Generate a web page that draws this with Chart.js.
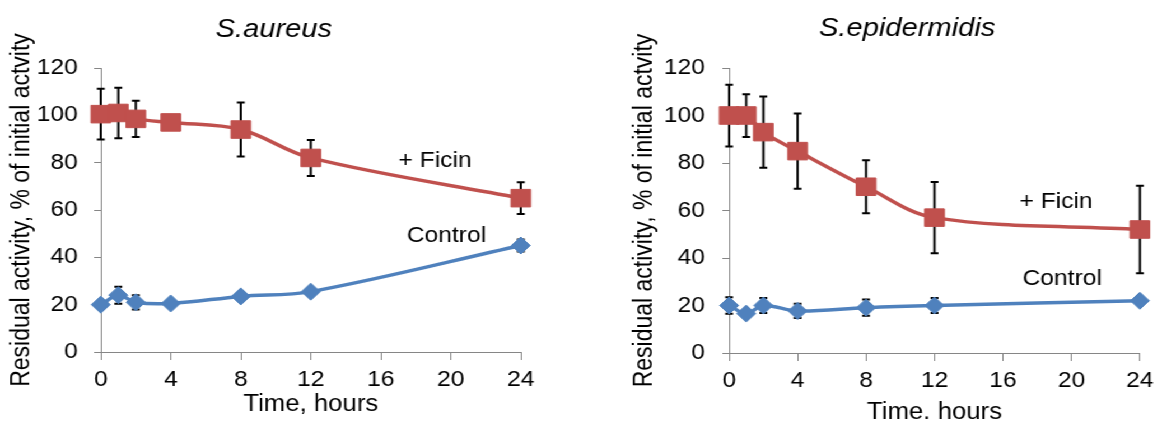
<!DOCTYPE html>
<html>
<head>
<meta charset="utf-8">
<script src="https://cdn.jsdelivr.net/npm/chart.js@4.4.1/dist/chart.umd.min.js"></script>
<style>
  html, body { margin: 0; padding: 0; background: #fff; overflow: hidden; }
  /* the original figure is stretched sideways a little */
  #wrap { width: 1037px; height: 422px; display: flex; transform: scaleX(1.12); transform-origin: 0 0; }
  canvas { display: block; }
</style>
</head>
<body>
<div id="wrap">
  <canvas id="aureus" width="518" height="422"></canvas>
  <canvas id="epidermidis" width="519" height="422"></canvas>
</div>
<script>
var hours = [0, 1, 2, 4, 8, 12, 24];
var xTicks = [0, 4, 8, 12, 16, 20, 24];
var yTicks = [0, 20, 40, 60, 80, 100, 120];

var aureusFicin = [100.5, 101, 98.5, 97, 94, 82, 65];
var aureusFicinErr = [10.7, 10.7, 7.7, 1, 11.4, 7.6, 6.7];
var aureusControl = [20, 24, 21, 20.5, 23.5, 25.5, 45];
var aureusControlErr = [1, 3.6, 3, 1, 1, 1, 2.5];

var epiFicin = [100, 100, 93, 85, 70, 57, 52];
var epiFicinErr = [13, 9, 15, 15.8, 11.2, 15, 18.4];
var epiControl = [20, 16.6, 20, 17.7, 19.1, 20, 22];
var epiControlErr = [3.5, 1, 3.2, 3, 3.4, 3.2, 1];

var RED = "#C0504D", BLUE = "#4F81BD", AXIS = "#868686";
var FONT = "'Liberation Sans', Arial, sans-serif";

function pts(xs, ys) {
  return xs.map(function (x, i) { return { x: x, y: ys[i] }; });
}

// vertical error bars with caps, drawn behind the markers
var errorBars = {
  id: "errorBars",
  beforeDatasetsDraw: function (chart) {
    var ctx = chart.ctx, ys = chart.scales.y;
    chart.data.datasets.forEach(function (ds, di) {
      var meta = chart.getDatasetMeta(di);
      ctx.save();
      ctx.strokeStyle = "#000";
      ctx.lineWidth = 2;
      meta.data.forEach(function (pt, i) {
        var e = ds.errors[i];
        if (!e) return;
        var v = ds.data[i].y;
        var top = ys.getPixelForValue(v + e), bot = ys.getPixelForValue(v - e);
        ctx.beginPath();
        ctx.moveTo(pt.x, top); ctx.lineTo(pt.x, bot);
        ctx.moveTo(pt.x - 3.5, top); ctx.lineTo(pt.x + 3.5, top);
        ctx.moveTo(pt.x - 3.5, bot); ctx.lineTo(pt.x + 3.5, bot);
        ctx.stroke();
      });
      ctx.restore();
    });
  }
};

// panel title and the series names written next to the lines
var textLabels = {
  id: "textLabels",
  afterDatasetsDraw: function (chart, args, opts) {
    var ctx = chart.ctx;
    ctx.save();
    ctx.fillStyle = "#000";
    ctx.textAlign = "center";
    ctx.textBaseline = "middle";
    ctx.font = "22px " + FONT;
    opts.notes.forEach(function (n) {
      ctx.fillText(n.text, chart.scales.x.getPixelForValue(n.x), chart.scales.y.getPixelForValue(n.y));
    });
    ctx.font = "italic 26px " + FONT;
    ctx.textBaseline = "alphabetic";
    ctx.fillText(opts.title, opts.titleX, opts.titleY);
    ctx.restore();
  }
};

function makeChart(id, cfg) {
  return new Chart(document.getElementById(id), {
    type: "line",
    data: {
      datasets: [{
        label: "+ Ficin",
        data: pts(hours, cfg.ficin),
        errors: cfg.ficinErr,
        borderColor: RED,
        backgroundColor: RED,
        borderWidth: 3.5,
        tension: 0.35,
        pointStyle: "rect",
        pointRadius: 12.4,
        pointHoverRadius: 12.4,
        pointBorderWidth: 1,
        clip: false
      }, {
        label: "Control",
        data: pts(hours, cfg.control),
        errors: cfg.controlErr,
        borderColor: BLUE,
        backgroundColor: BLUE,
        borderWidth: 3.5,
        tension: 0.35,
        pointStyle: "rectRot",
        pointRadius: 8.5,
        pointHoverRadius: 8.5,
        pointBorderWidth: 1,
        clip: false
      }]
    },
    options: {
      responsive: false,
      animation: false,
      layout: { padding: { left: 0, right: cfg.padRight, top: 68, bottom: 0 } },
      plugins: {
        legend: { display: false },
        tooltip: { enabled: false },
        textLabels: { title: cfg.title, titleX: cfg.titleX, titleY: cfg.titleY, notes: cfg.notes }
      },
      scales: {
        x: {
          type: "linear",
          min: 0,
          max: 24,
          afterBuildTicks: function (s) { s.ticks = xTicks.map(function (v) { return { value: v }; }); },
          afterFit: function (s) { s.height = cfg.xHeight; },
          grid: { drawOnChartArea: false, color: AXIS, tickLength: 8 },
          border: { color: AXIS, width: 1 },
          ticks: { color: "#000", font: { family: FONT, size: 22 }, padding: 7, maxRotation: 0 },
          title: {
            display: true, text: cfg.xTitle, color: "#000",
            font: { family: FONT, size: 23 }, padding: { top: 0, bottom: cfg.xTitlePad }
          }
        },
        y: {
          min: 0,
          max: 120,
          afterBuildTicks: function (s) { s.ticks = yTicks.map(function (v) { return { value: v }; }); },
          afterFit: function (s) { s.width = cfg.yWidth; },
          grid: { drawOnChartArea: false, color: AXIS, tickLength: 6 },
          border: { color: AXIS, width: 1 },
          ticks: { color: "#000", font: { family: FONT, size: 22 }, padding: cfg.yTickPad },
          title: {
            display: true, text: "Residual activity, % of initial actvity", color: "#000",
            font: { family: FONT, size: 23 }, padding: { top: cfg.yTitlePad, bottom: 0 }
          }
        }
      }
    },
    plugins: [errorBars, textLabels]
  });
}

makeChart("aureus", {
  title: "S.aureus", titleX: 244.5, titleY: 37,
  xTitle: "Time, hours",
  ficin: aureusFicin, ficinErr: aureusFicinErr,
  control: aureusControl, controlErr: aureusControlErr,
  notes: [{ text: "+ Ficin", x: 19.1, y: 80.6 }, { text: "Control", x: 19.75, y: 48.9 }],
  padRight: 53, yWidth: 90, xHeight: 70,
  yTickPad: 14.5, yTitlePad: 6, xTitlePad: 4
});

makeChart("epidermidis", {
  title: "S.epidermidis", titleX: 292, titleY: 35.5,
  xTitle: "Time. hours",
  ficin: epiFicin, ficinErr: epiFicinErr,
  control: epiControl, controlErr: epiControlErr,
  notes: [{ text: "+ Ficin", x: 19.1, y: 63.6 }, { text: "Control", x: 19.46, y: 31.3 }],
  padRight: 15, yWidth: 133, xHeight: 69,
  yTickPad: 15.5, yTitlePad: 43.5, xTitlePad: -4
});
</script>
</body>
</html>
